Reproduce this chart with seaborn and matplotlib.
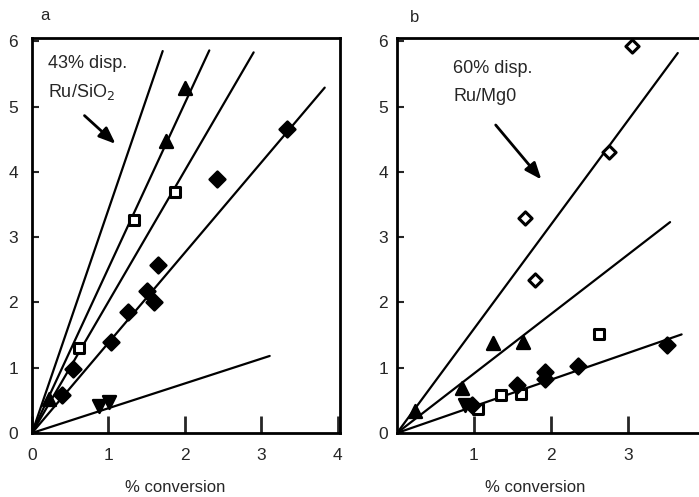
import matplotlib
matplotlib.use("Agg")
import matplotlib.pyplot as plt
import seaborn as sns
import pandas as pd

sns.set_style("ticks")
plt.rcParams["font.family"] = ["Liberation Sans", "DejaVu Sans"]

# ---- panel a: 43% disp. Ru/SiO2 ----
a_line_x_end = [1.71, 2.32, 2.90, 3.83, 3.11]
a_line_y_end = [5.85, 5.86, 5.83, 5.29, 1.18]

a_tri_x = [2.00, 1.75, 0.22]
a_tri_y = [5.28, 4.47, 0.52]
a_sq_x = [1.34, 1.87, 0.61]
a_sq_y = [3.26, 3.69, 1.30]
a_dia_x = [2.42, 3.34, 1.65, 1.51, 1.60, 1.26, 1.04, 0.53, 0.39]
a_dia_y = [3.89, 4.65, 2.57, 2.17, 2.00, 1.86, 1.40, 0.98, 0.58]
a_inv_x = [0.88, 1.01]
a_inv_y = [0.41, 0.47]

# ---- panel b: 60% disp. Ru/MgO ----
b_line_x_end = [3.65, 3.55, 3.70]
b_line_y_end = [5.82, 3.23, 1.51]

b_odia_x = [3.06, 2.75, 1.67, 1.80]
b_odia_y = [5.92, 4.30, 3.29, 2.35]
b_tri_x = [1.25, 1.64, 0.84, 0.23]
b_tri_y = [1.38, 1.40, 0.69, 0.33]
b_sq_x = [2.62, 1.35, 1.61, 1.05]
b_sq_y = [1.51, 0.58, 0.60, 0.37]
b_dia_x = [3.51, 2.35, 1.93, 1.93, 1.56, 0.97]
b_dia_y = [1.35, 1.02, 0.94, 0.82, 0.74, 0.43]
b_inv_x = [0.88]
b_inv_y = [0.43]

fig = plt.figure(figsize=(6.99, 4.97), dpi=100)
ax_a = fig.add_axes([32 / 699, 64 / 497, 308 / 699, 395 / 497])
ax_b = fig.add_axes([397 / 699, 64 / 497, 310 / 699, 395 / 497])


def draw_lines(ax, xs, ys):
    for xe, ye in zip(xs, ys):
        df = pd.DataFrame({"x": [0.0, xe], "y": [0.0, ye]})
        sns.lineplot(data=df, x="x", y="y", ax=ax, color="black",
                     linewidth=1.6, sort=False, estimator=None)


def draw_points(ax, xs, ys, marker, filled=True, size=70, lw=1.8):
    df = pd.DataFrame({"x": xs, "y": ys})
    sns.scatterplot(data=df, x="x", y="y", ax=ax, marker=marker, s=size,
                    color="black" if filled else "white",
                    edgecolor="black", linewidth=lw, zorder=5)


draw_lines(ax_a, a_line_x_end, a_line_y_end)
draw_points(ax_a, a_tri_x, a_tri_y, "^", size=85)
draw_points(ax_a, a_sq_x, a_sq_y, "s", filled=False, size=45, lw=2.2)
draw_points(ax_a, a_dia_x, a_dia_y, "D", size=65)
draw_points(ax_a, a_inv_x, a_inv_y, "v", size=85)

draw_lines(ax_b, b_line_x_end, b_line_y_end)
draw_points(ax_b, b_odia_x, b_odia_y, "D", filled=False, size=45, lw=2.2)
draw_points(ax_b, b_tri_x, b_tri_y, "^", size=85)
draw_points(ax_b, b_sq_x, b_sq_y, "s", filled=False, size=45, lw=2.2)
draw_points(ax_b, b_dia_x, b_dia_y, "D", size=65)
draw_points(ax_b, b_inv_x, b_inv_y, "v", size=85)

for ax in (ax_a, ax_b):
    ax.set_xlim(0, 4.03)
    ax.set_ylim(0, 6.05)
    ax.set_yticks(range(0, 7))
    ax.set_xlabel("% conversion", fontsize=12, va="center")
    ax.set_ylabel("")
    for sp in ax.spines.values():
        sp.set_visible(True)
        sp.set_linewidth(2.0)
        sp.set_color("black")
    ax.tick_params(axis="x", direction="in", length=12, width=2,
                   labelsize=12.5, pad=11)

ax_a.tick_params(axis="y", direction="in", length=5, width=1.5,
                 labelsize=12.5, pad=10)
ax_b.tick_params(axis="y", direction="in", length=5, width=1.5,
                 labelsize=12.5, pad=6.5)

ax_a.set_xticks(range(0, 5))
ax_b.set_xticks(range(1, 5))
ax_a.xaxis.set_label_coords(0.464, -0.139)
ax_b.xaxis.set_label_coords(0.445, -0.139)

# panel annotations
ax_a.text(0.21, 5.66, "43% disp.", fontsize=13, va="center")
ax_a.text(0.21, 5.22, "Ru/SiO$_2$", fontsize=13, va="center")
arrow = dict(arrowstyle="-|>,head_length=1.0,head_width=0.4",
             color="black", lw=2)
ax_a.annotate("", xy=(1.12, 4.40), xytext=(0.66, 4.89), arrowprops=arrow)

ax_b.text(0.73, 5.58, "60% disp.", fontsize=13, va="center")
ax_b.text(0.73, 5.15, "Ru/Mg0", fontsize=13, va="center")
ax_b.annotate("", xy=(1.90, 3.85), xytext=(1.26, 4.75), arrowprops=arrow)

fig.text(40 / 699, 1 - 15 / 497, "a", fontsize=12, va="center")
fig.text(410 / 699, 1 - 18 / 497, "b", fontsize=12, va="center")

fig.savefig("out.png", dpi=100)
